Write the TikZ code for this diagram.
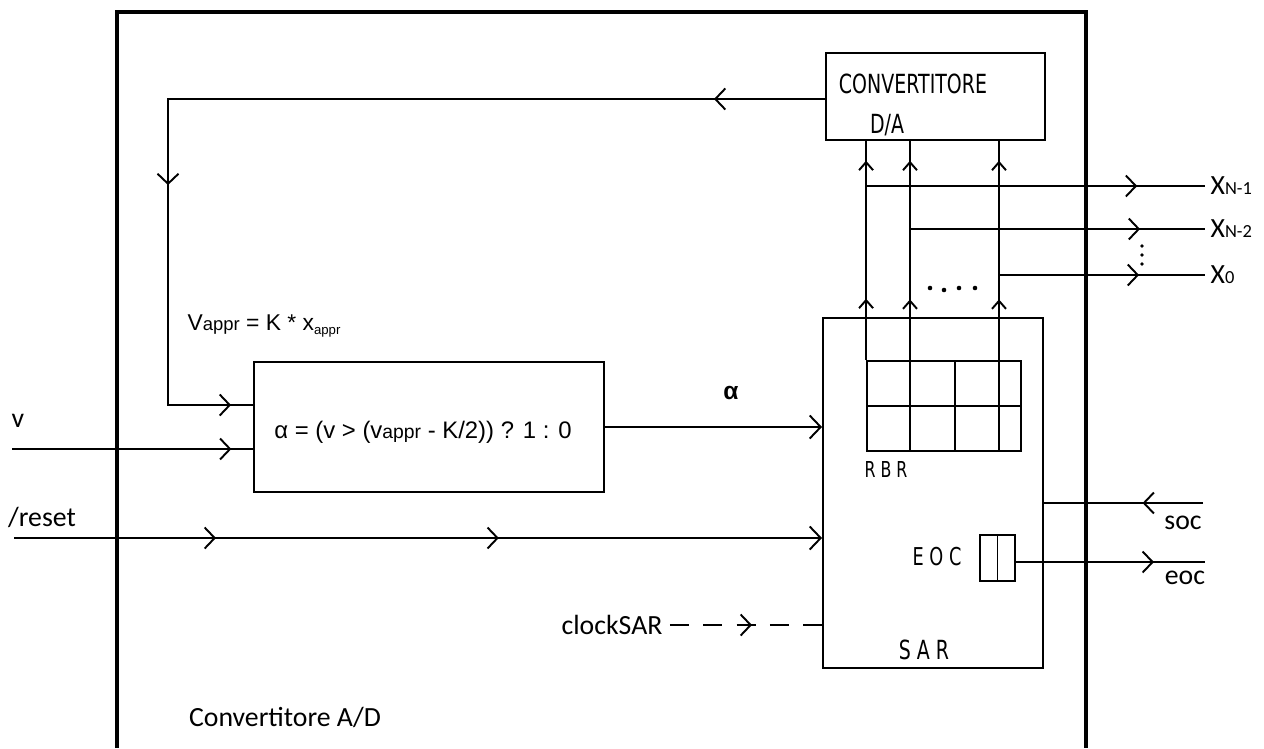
\documentclass[tikz,border=0pt]{standalone}
\usepackage{fontspec}
\setmainfont{Carlito}
\newfontfamily\arialf{Liberation Sans}
\newfontfamily\handf[FakeStretch=0.72]{DejaVu Sans}
\usetikzlibrary{arrows.meta, decorations.markings, calc}

\begin{document}
\begin{tikzpicture}[
    x=0.02cm, y=-0.02cm,
    blk/.style={draw, line width=1.1pt, inner sep=0pt},
    wire/.style={line width=1.1pt},
    chev/.style={postaction={decorate, decoration={markings, mark=at position #1 with
                 {\arrow{Straight Barb[length=2mm, width=4.2mm]}}}}},
    chup/.style={postaction={decorate, decoration={markings, mark=at position #1 with
                 {\arrow{Straight Barb[length=1.6mm, width=2.8mm]}}}}},
    tip/.style={-{Straight Barb[length=2.2mm, width=4.6mm]}},
    lbl/.style={font=\fontsize{15.8}{19}\selectfont, inner sep=2pt},
    xlbl/.style={font=\fontsize{15.8}{19}\selectfont, inner sep=3pt, anchor=west},
    hand/.style={font=\handf\fontsize{15}{18}\selectfont, inner sep=0pt},
    frm/.style={font=\arialf\fontsize{13.6}{16}\selectfont, inner sep=0pt}
  ]
    \useasboundingbox (0,0) rectangle (1264,748);
    % ---- contorno convertitore A/D ----
    \draw[line width=2.3pt] (117,748) -- (117,12) -- (1086,12) -- (1086,748);
    \node[lbl] (adlab) at (285,717) {Convertitore A/D};
    % ---- blocchi ----
    \node[blk, minimum width=4.38cm, minimum height=1.74cm] (da) at (935.5,96.5) {};
    \node[hand] (dat1) at (913,84) {CONVERTITORE};
    \node[hand] (dat2) at (887,125) {D/A};
    \node[blk, minimum width=7cm, minimum height=2.6cm] (cmp) at (429,427) {};
    \node[frm] (cmpt) at (423,432) {α = (v > (v{\fontsize{11}{13}\selectfont appr} - K/2)) ? 1 : 0};
    \node[frm, font=\arialf\fontsize{13}{16}\selectfont] (vap) at (264,326)
      {V{\fontsize{10.5}{13}\selectfont appr} = K * x\raisebox{-0.4ex}{\fontsize{7.5}{9}\selectfont appr}};
    \node[blk, minimum width=4.4cm, minimum height=7cm] (sar) at (933,493) {};
    \node[hand] (sart) at (924,650) {S A R};
    \node[blk, minimum width=3.08cm, minimum height=1.8cm] (reg) at (944,406) {};
    \node[hand, font=\handf\fontsize{12.5}{14}\selectfont] (regt) at (886,469) {R B R};
    \node[blk, minimum width=0.7cm, minimum height=0.92cm] (ff) at (997.5,558) {};
    \node[hand, font=\handf\fontsize{14}{16}\selectfont] (fft) at (937,557) {E O C};
    % ---- registro ----
    \draw[wire] (reg.west) -- (reg.east);
    \foreach \xx in {910,955,999}
      \draw[wire] (reg.north -| \xx,0) -- (reg.south -| \xx,0);
    \draw[wire] (ff.north) -- (ff.south);
    % ---- ingressi ----
    \node[lbl] (vl) at (18,421) {v};
    \node[lbl] (rl) at (42,517) {/reset};
    \node[lbl, inner sep=4pt] (clk) at (612,625) {clockSAR};
    \node[frm, font=\arialf\bfseries\fontsize{14}{16}\selectfont] (alab) at (731,393) {α};
    \coordinate (vin) at (12,449);
    \coordinate (rin) at (14,538);
    \draw[wire, chev=0.91] (vin) -- (vin -| cmp.west);
    \draw[wire, tip, chev=0.25, chev=0.6] (rin) -- (rin -| sar.west);
    \draw[wire, tip] (cmp.east) -- (cmp.east -| sar.west);
    \draw[wire, dash pattern=on 11pt off 8pt, chev=0.54] (clk.east) -- (clk.east -| sar.west);
    % ---- retroazione ----
    \coordinate (fbt) at (168,99);
    \coordinate (fbb) at (168,405);
    \draw[wire, chev=0.106, chev=0.709, chev=0.979] (da.west |- fbt) -- (fbt) -- (fbb) -- (fbb -| cmp.west);
    % ---- bit verso D/A ----
    \coordinate (b1) at (reg.north west);
    \coordinate (b2) at (910,361);
    \coordinate (b3) at (999,361);
    \foreach \bb in {b1,b2,b3}
      \draw[wire, chup=0.28, chup=0.91] (\bb) -- (\bb |- da.south);
    \foreach \xx/\yy in {930/288,944/290,959/288,975/288}
      \fill (\xx,\yy) circle (1.3pt);
    % ---- uscite ----
    \node[xlbl] (xn1) at (1205,186) {X{\fontsize{10.5}{12}\selectfont N-1}};
    \node[xlbl] (xn2) at (1205,229) {X{\fontsize{10.5}{12}\selectfont N-2}};
    \node[xlbl] (x0) at (1205,275) {X{\fontsize{10.5}{12}\selectfont 0}};
    \draw[wire, chev=0.8] (b1 |- xn1) -- (xn1.west);
    \draw[wire, chev=0.78] (b2 |- xn2) -- (xn2.west);
    \draw[wire, chev=0.68] (b3 |- x0) -- (x0.west);
    \foreach \yy in {246,255,264}
      \fill (1142,\yy) circle (1.1pt);
    % ---- soc / eoc ----
    \node[lbl] (socl) at (1183,523) {soc};
    \node[lbl] (eocl) at (1185,578) {eoc};
    \coordinate (socin) at (1203,503);
    \coordinate (eocout) at (1205,562);
    \draw[wire, chev=0.38] (socin) -- (socin -| sar.east);
    \draw[wire, chev=0.73] (ff.east |- eocout) -- (eocout);
  \end{tikzpicture}
\end{document}
